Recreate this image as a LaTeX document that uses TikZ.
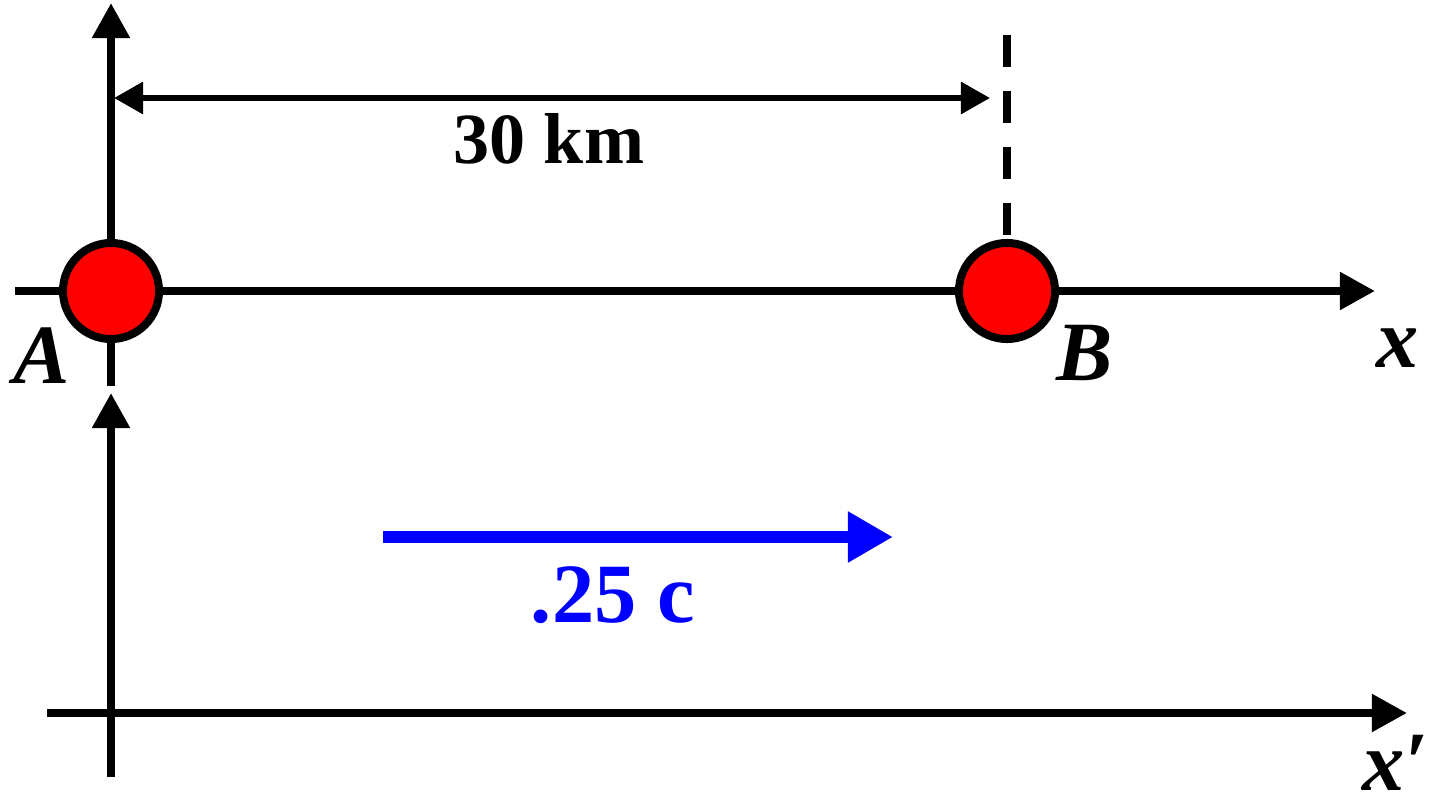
\documentclass[tikz,border=0pt]{standalone}
\usepackage{fontspec}
\setmainfont{Liberation Serif}
\usepackage{tikz}
\usetikzlibrary{arrows.meta, positioning, calc}

\begin{document}
\begin{tikzpicture}[x=0.01cm, y=-0.01cm,
  axis/.style={line width=0.08cm, -{Triangle[length=0.35cm, width=0.36cm]}},
  ball/.style={circle, draw, fill=red, line width=0.08cm, minimum size=0.96cm, inner sep=0pt},
  lbl/.style={font=\fontsize{24}{28}\selectfont\bfseries\itshape, inner sep=0pt, anchor=base}]
\useasboundingbox (0,0) rectangle (1445,809);

% rest frame (A, B)
\coordinate (ybot) at (111,386);
\coordinate (ytop) at (111,3);
\coordinate (xleft) at (15,291);
\coordinate (xright) at (1375,291);
\draw[axis] (ybot) -- (ytop);
\draw[axis] (xleft) -- (xright);
\node (A) [ball] at (111,291) {};
\node (B) [ball] at (1007,291) {};
\coordinate (btop) at (1007,35);
\draw[line width=0.08cm, dash pattern=on 0.32cm off 0.24cm] (btop) -- (B.north);

% distance
\coordinate (dimL) at (114,98);
\coordinate (dimR) at (990,98);
\draw[line width=0.06cm, {Triangle[length=0.29cm, width=0.31cm]}-{Triangle[length=0.29cm, width=0.31cm]}] (dimL) -- (dimR);
\node (dist) [font=\fontsize{20.5}{24}\selectfont\bfseries, inner sep=0pt, anchor=base] at (549,163) {30 km};

\node (labA) [lbl] at (42,383) {A};
\node (labB) [lbl] at (1085,380) {B};
\node (labx) [lbl] at (1398,367) {x};

% moving frame
\coordinate (ybot2) at (111,777);
\coordinate (ytop2) at (111,393);
\coordinate (xleft2) at (47,713);
\coordinate (xright2) at (1407,713);
\draw[axis] (ybot2) -- (ytop2);
\draw[axis] (xleft2) -- (xright2);
\node (labx2) [lbl, text depth=0pt, anchor=base west] at (1362,790) {x′};

% velocity
\coordinate (vL) at (383,537);
\coordinate (vR) at (893,537);
\draw[blue, line width=0.125cm, -{Triangle[length=0.45cm, width=0.48cm]}] (vL) -- (vR);
\node (vel) [blue, font=\fontsize{24}{28}\selectfont\bfseries, inner sep=0pt, anchor=base] at (613,622) {.25 c};
\end{tikzpicture}
\end{document}
